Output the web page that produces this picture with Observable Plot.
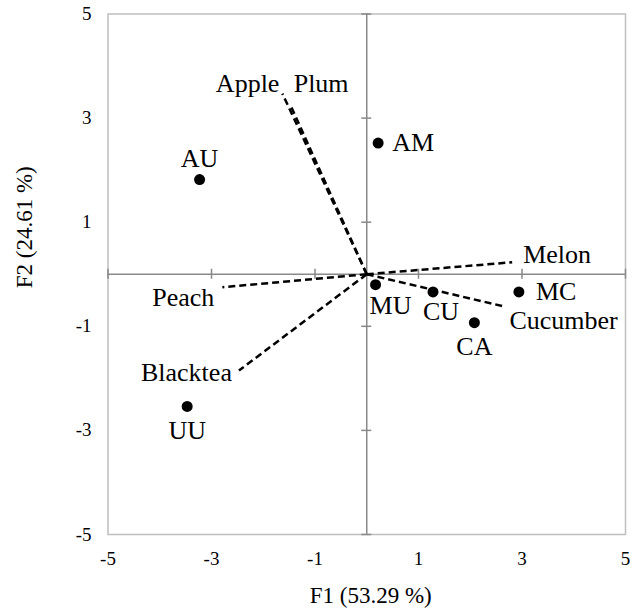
<!DOCTYPE html>
<html>
<head>
<meta charset="utf-8">
<script src="https://cdn.jsdelivr.net/npm/d3@7"></script>
<script src="https://cdn.jsdelivr.net/npm/@observablehq/plot@0.6"></script>
<style>
  html, body { margin: 0; padding: 0; background: #fff; }
  #chart svg { display: block; }
</style>
</head>
<body>
<div id="chart"></div>
<script>
// ---- data ----
const samples  = ["AU", "UU", "AM", "MU", "CU", "CA", "MC"];
const sampleF1 = [-3.23, -3.47, 0.22, 0.17, 1.28, 2.08, 2.94];
const sampleF2 = [1.82, -2.54, 2.52, -0.20, -0.34, -0.93, -0.34];

const attributes = ["Apple", "Plum", "Melon", "Cucumber", "Peach", "Blacktea"];
const attrF1 = [-1.63, -1.47, 2.81, 2.66, -2.79, -2.47];
const attrF2 = [3.47, 3.24, 0.23, -0.62, -0.25, -1.85];

const xTicks = [-5, -3, -1, 1, 3, 5];
const yTicks = [-5, -3, -1, 1, 3, 5];
const xTitle = "F1 (53.29 %)";
const yTitle = "F2 (24.61 %)";

// ---- tables ----
const sampleRows = samples.map((name, i) => ({name, f1: sampleF1[i], f2: sampleF2[i]}));
const attrRows = attributes.map((name, i) => ({name, f1: attrF1[i], f2: attrF2[i]}));

const SERIF = "'Liberation Serif', 'Times New Roman', serif";

// label placement (pixel offsets, anchors) – layout only
const labelStyle = {
  AU: {dx: 0, dy: -21, anchor: "middle"},
  UU: {dx: 0, dy: 24, anchor: "middle"},
  AM: {dx: 14, dy: 0, anchor: "start"},
  MU: {dx: 15, dy: 21, anchor: "middle"},
  CU: {dx: 8, dy: 20, anchor: "middle"},
  CA: {dx: 0, dy: 24, anchor: "middle"},
  MC: {dx: 17, dy: 0, anchor: "start"},
  Apple: {dx: -3, dy: -10, anchor: "end"},
  Plum: {dx: 3, dy: -22, anchor: "start"},
  Melon: {dx: 11, dy: -8, anchor: "start"},
  Cucumber: {dx: 5, dy: 14, anchor: "start"},
  Peach: {dx: -8, dy: 10, anchor: "end"},
  Blacktea: {dx: -7, dy: 2, anchor: "end"}
};

// Separate text marks per label so each can carry its own offset
function perLabel(rows) {
  return rows.map(d => {
    const s = labelStyle[d.name];
    return Plot.text([d], {
      x: "f1", y: "f2", text: "name",
      textAnchor: s.anchor, dx: s.dx, dy: s.dy,
      lineAnchor: "middle", fontSize: 26, fill: "#000", fontFamily: SERIF
    });
  });
}

const tf = d => String(d).replace("\u2212", "-");

const chart = Plot.plot({
  width: 640,
  height: 615,
  marginLeft: 107.5,
  marginRight: 15,
  marginTop: 13.5,
  marginBottom: 81,
  style: {fontFamily: SERIF, background: "#fff", color: "#000"},
  x: {domain: [-5, 5]},
  y: {domain: [-5, 5]},
  marks: [
    Plot.frame({stroke: "#bfbfbf", strokeWidth: 1.5}),
    Plot.ruleX([0], {stroke: "#898989", strokeWidth: 1.5}),
    Plot.ruleY([0], {stroke: "#898989", strokeWidth: 1.5}),
    Plot.ruleY(yTicks, {y: d => d, x1: 0, x2: 0, insetLeft: -5, insetRight: -5, stroke: "#898989", strokeWidth: 1.5}),
    Plot.ruleX(xTicks, {x: d => d, y1: 0, y2: 0, insetTop: -5, insetBottom: -5, stroke: "#898989", strokeWidth: 1.5}),
    Plot.axisX({ticks: xTicks, tickSize: 0, tickPadding: 17, fontSize: 19, label: null, tickFormat: tf, fontFamily: SERIF}),
    Plot.axisY({ticks: yTicks, tickSize: 0, tickPadding: 16.5, fontSize: 19, label: null, tickFormat: tf, fontFamily: SERIF}),
    Plot.link(attrRows, {x1: () => 0, y1: () => 0, x2: "f1", y2: "f2", stroke: "#000", strokeWidth: 2.5, strokeDasharray: "7,4"}),
    Plot.dot(sampleRows, {x: "f1", y: "f2", r: 5.5, fill: "#000"}),
    ...perLabel(sampleRows),
    ...perLabel(attrRows),
    Plot.text([xTitle], {frameAnchor: "bottom", dy: 61, dx: 4, textAnchor: "middle", lineAnchor: "middle", fontSize: 23, fill: "#000", fontFamily: SERIF}),
    Plot.text([yTitle], {frameAnchor: "left", dx: -83.5, dy: -47, rotate: -90, textAnchor: "middle", lineAnchor: "middle", fontSize: 23, fill: "#000", fontFamily: SERIF})
  ]
});
document.getElementById("chart").appendChild(chart);
</script>
</body>
</html>
